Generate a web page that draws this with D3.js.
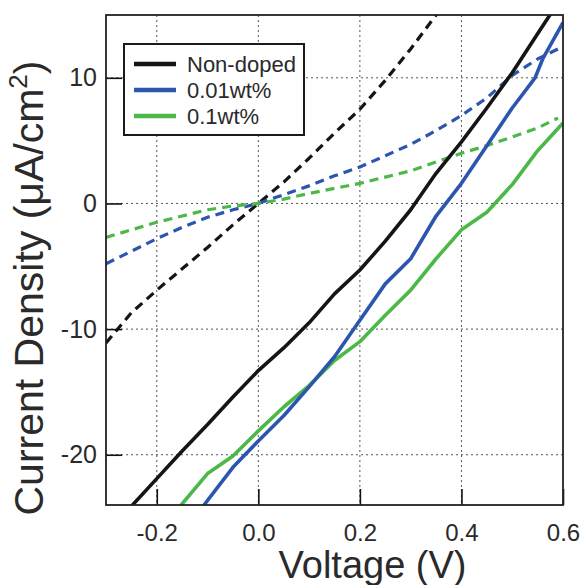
<!DOCTYPE html>
<html>
<head>
<meta charset="utf-8">
<script src="https://cdn.jsdelivr.net/npm/d3@7"></script>
<style>
  body { margin: 0; background: #fff; }
  svg { display: block; font-family: "Liberation Sans", Arial, sans-serif; }
</style>
</head>
<body>
<div id="chart"></div>
<script>
// J-V curves (V in volts, J in uA/cm2)
const seriesNames = ["Non-doped", "0.01wt%", "0.1wt%"];
const seriesColors = ["#151515", "#2c55ae", "#4cb848"];

const blackV = [-0.25, -0.2, -0.15, -0.1, -0.05, 0, 0.05, 0.1, 0.15, 0.2, 0.25, 0.3, 0.35, 0.4, 0.45, 0.5, 0.55, 0.6];
const blackJ = [-24.1, -21.9, -19.7, -17.6, -15.4, -13.3, -11.5, -9.5, -7.2, -5.3, -3.0, -0.5, 2.4, 4.9, 7.6, 10.4, 13.5, 16.6];

const blueV = [-0.107, -0.05, 0, 0.05, 0.1, 0.15, 0.2, 0.25, 0.3, 0.35, 0.4, 0.45, 0.5, 0.545, 0.56, 0.6];
const blueJ = [-24, -21.0, -18.9, -16.9, -14.6, -12.2, -9.3, -6.4, -4.4, -1.0, 1.6, 4.6, 7.6, 10.0, 11.5, 14.4];

const greenV = [-0.152, -0.1, -0.05, 0, 0.05, 0.1, 0.15, 0.2, 0.25, 0.3, 0.35, 0.4, 0.45, 0.5, 0.55, 0.6];
const greenJ = [-24, -21.5, -20.1, -18.1, -16.2, -14.5, -12.5, -11.0, -8.9, -6.9, -4.4, -2.1, -0.7, 1.5, 4.2, 6.4];

// dark (dashed) curves
const darkV = [-0.3, -0.25, -0.2, -0.15, -0.1, -0.05, 0, 0.05, 0.1, 0.15, 0.2, 0.25, 0.3, 0.35, 0.4];
const blackDarkJ = [-11.1, -8.7, -6.9, -5.2, -3.5, -1.7, 0, 1.7, 3.6, 5.6, 7.5, 9.8, 12.3, 15.0, 17.8];

const darkV2 = [-0.3, -0.25, -0.2, -0.15, -0.1, -0.05, 0, 0.05, 0.1, 0.15, 0.2, 0.25, 0.3, 0.35, 0.4, 0.45, 0.5, 0.55, 0.59];
const blueDarkJ = [-4.8, -3.8, -2.8, -1.9, -1.1, -0.5, 0, 0.7, 1.4, 2.2, 2.9, 3.8, 4.7, 5.8, 7.0, 8.4, 10.2, 11.5, 12.3];
const greenDarkJ = [-2.7, -2.1, -1.5, -1.0, -0.5, -0.2, 0, 0.35, 0.8, 1.2, 1.6, 2.1, 2.6, 3.3, 4.0, 4.6, 5.3, 6.0, 6.8];

const xTicks = [-0.2, 0, 0.2, 0.4, 0.6];
const yTicks = [-20, -10, 0, 10];

const width = 582, height = 585;
const margin = {top: 15, right: 19, bottom: 80, left: 106};

const x = d3.scaleLinear()
    .domain([-0.3, 0.6])
    .range([margin.left, width - margin.right]);

const y = d3.scaleLinear()
    .domain([-24, 15])
    .range([height - margin.bottom, margin.top]);

const svg = d3.select("#chart").append("svg")
    .attr("width", width)
    .attr("height", height);

svg.append("clipPath")
    .attr("id", "plot-clip")
  .append("rect")
    .attr("x", x(-0.3))
    .attr("y", y(15))
    .attr("width", x(0.6) - x(-0.3))
    .attr("height", y(-24) - y(15));

// dotted grid
const grid = svg.append("g")
    .attr("stroke", "#555")
    .attr("stroke-width", 1)
    .attr("stroke-dasharray", "2,3");

grid.selectAll(".vx")
  .data(xTicks.filter(d => d < 0.6))
  .join("line")
    .attr("x1", d => x(d)).attr("x2", d => x(d))
    .attr("y1", y(15)).attr("y2", y(-24));

grid.selectAll(".hy")
  .data(yTicks)
  .join("line")
    .attr("x1", x(-0.3)).attr("x2", x(0.6))
    .attr("y1", d => y(d)).attr("y2", d => y(d));

// curves
const line = d3.line()
    .x(d => x(d[0]))
    .y(d => y(d[1]));

const curves = [
  {v: darkV, j: blackDarkJ, color: seriesColors[0], dash: true},
  {v: darkV2, j: blueDarkJ, color: seriesColors[1], dash: true},
  {v: darkV2, j: greenDarkJ, color: seriesColors[2], dash: true},
  {v: greenV, j: greenJ, color: seriesColors[2], dash: false},
  {v: blueV, j: blueJ, color: seriesColors[1], dash: false},
  {v: blackV, j: blackJ, color: seriesColors[0], dash: false}
];

svg.append("g")
    .attr("clip-path", "url(#plot-clip)")
    .attr("fill", "none")
  .selectAll("path")
  .data(curves)
  .join("path")
    .attr("d", c => line(c.v.map((v, i) => [v, c.j[i]])))
    .attr("stroke", c => c.color)
    .attr("stroke-width", c => c.dash ? 3.2 : 3.6)
    .attr("stroke-dasharray", c => c.dash ? "9,6" : null)
    .attr("stroke-linejoin", "round");

// axes with inward ticks
const xAxis = g => g
    .attr("transform", `translate(0,${y(-24)})`)
    .call(d3.axisBottom(x).tickValues(xTicks).tickSize(-16).tickPadding(19)
      .tickFormat(d => d.toFixed(1)))
    .call(g => g.select(".domain").remove())
    .call(g => g.selectAll(".tick line").attr("stroke", "#111").attr("stroke-width", 1.6))
    .call(g => g.selectAll(".tick text").attr("font-size", 24).attr("fill", "#2a2a2a")
      .attr("font-family", "Liberation Sans, Arial, sans-serif"));

const yAxis = g => g
    .attr("transform", `translate(${x(-0.3)},0)`)
    .call(d3.axisLeft(y).tickValues(yTicks).tickSize(-16).tickPadding(9)
      .tickFormat(d => String(d)))
    .call(g => g.select(".domain").remove())
    .call(g => g.selectAll(".tick line").attr("stroke", "#111").attr("stroke-width", 1.6))
    .call(g => g.selectAll(".tick text").attr("font-size", 25).attr("fill", "#2a2a2a")
      .attr("font-family", "Liberation Sans, Arial, sans-serif"));

svg.append("g").call(xAxis);
svg.append("g").call(yAxis);

// frame
svg.append("rect")
    .attr("x", x(-0.3))
    .attr("y", y(15))
    .attr("width", x(0.6) - x(-0.3))
    .attr("height", y(-24) - y(15))
    .attr("fill", "none")
    .attr("stroke", "#222")
    .attr("stroke-width", 1.8);

// axis titles
svg.append("text")
    .attr("x", (x(-0.3) + x(0.6)) / 2 + 38)
    .attr("y", 578)
    .attr("text-anchor", "middle")
    .attr("font-size", 38)
    .attr("fill", "#2a2a2a")
    .text("Voltage (V)");

const yt = svg.append("text")
    .attr("transform", "translate(43,288) rotate(-90)")
    .attr("text-anchor", "middle")
    .attr("font-size", 41)
    .attr("fill", "#2a2a2a");
yt.append("tspan").text("Current Density (μA/cm");
yt.append("tspan").attr("font-size", 26).attr("dy", -16).text("2");
yt.append("tspan").attr("dy", 16).text(")");

// legend
const legend = svg.append("g").attr("transform", "translate(124,44)");

legend.append("rect")
    .attr("width", 180)
    .attr("height", 91)
    .attr("fill", "#fff")
    .attr("stroke", "#1a1a1a")
    .attr("stroke-width", 2);

const item = legend.selectAll(".item")
  .data(seriesNames)
  .join("g")
    .attr("transform", (d, i) => `translate(0,${20 + i * 26})`);

item.append("line")
    .attr("x1", 10).attr("x2", 52)
    .attr("stroke", (d, i) => seriesColors[i])
    .attr("stroke-width", 4.5);

item.append("text")
    .attr("x", 63)
    .attr("y", 8)
    .attr("font-size", 22)
    .attr("fill", "#2a2a2a")
    .text(d => d);
</script>
</body>
</html>
